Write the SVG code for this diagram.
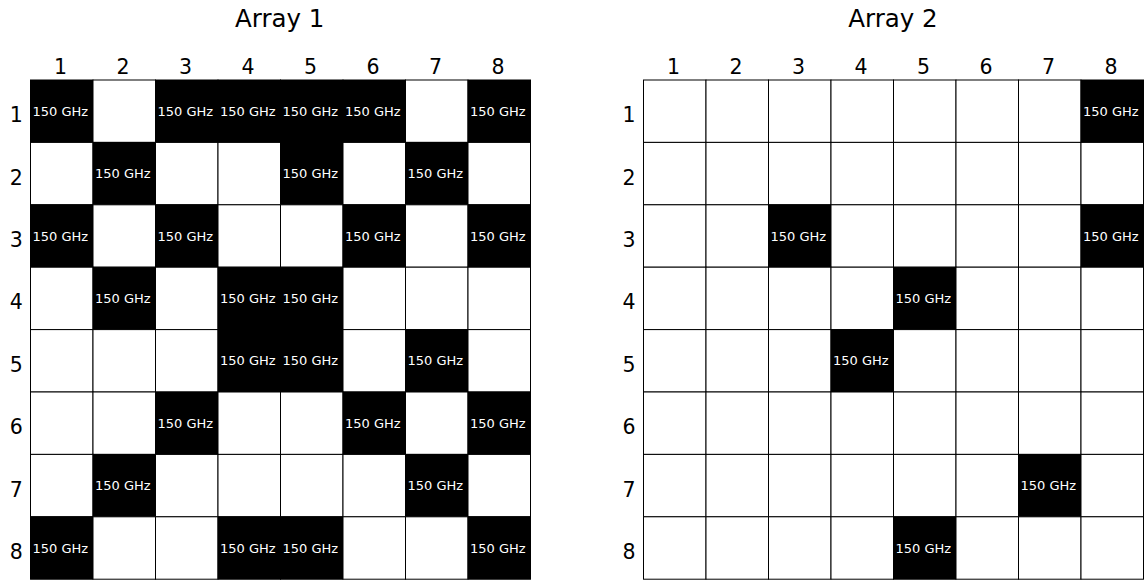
<svg xmlns="http://www.w3.org/2000/svg" width="1146" height="581" viewBox="0 0 1146 581">
<style>
text{font-family:"DejaVu Sans","Liberation Sans",sans-serif}
.title{font-size:24.5px;text-anchor:middle;fill:#000}
.ax{font-size:20.5px;text-anchor:middle;fill:#000}
.lbl{font-size:13px;fill:#fff}
.cell rect{stroke:#000;stroke-width:1}
.on{fill:#000}
.off{fill:#fff}
</style>
<g id="titles">
<text class="title" x="279.7" y="26.8">Array 1</text>
<text class="title" x="893" y="26.8">Array 2</text>
</g>
<g id="axis-labels">
<text class="ax" x="60.5" y="74">1</text><text class="ax" x="123" y="74">2</text><text class="ax" x="185.5" y="74">3</text><text class="ax" x="248" y="74">4</text><text class="ax" x="310.5" y="74">5</text><text class="ax" x="373" y="74">6</text><text class="ax" x="435.5" y="74">7</text><text class="ax" x="498" y="74">8</text>
<text class="ax" x="16.3" y="122.2">1</text><text class="ax" x="16.3" y="184.6">2</text><text class="ax" x="16.3" y="247">3</text><text class="ax" x="16.3" y="309.4">4</text><text class="ax" x="16.3" y="371.8">5</text><text class="ax" x="16.3" y="434.2">6</text><text class="ax" x="16.3" y="496.6">7</text><text class="ax" x="16.3" y="559">8</text>
<text class="ax" x="673.5" y="74">1</text><text class="ax" x="736" y="74">2</text><text class="ax" x="798.5" y="74">3</text><text class="ax" x="861" y="74">4</text><text class="ax" x="923.5" y="74">5</text><text class="ax" x="986" y="74">6</text><text class="ax" x="1048.5" y="74">7</text><text class="ax" x="1111" y="74">8</text>
<text class="ax" x="629" y="122.2">1</text><text class="ax" x="629" y="184.6">2</text><text class="ax" x="629" y="247">3</text><text class="ax" x="629" y="309.4">4</text><text class="ax" x="629" y="371.8">5</text><text class="ax" x="629" y="434.2">6</text><text class="ax" x="629" y="496.6">7</text><text class="ax" x="629" y="559">8</text>
</g>
<g id="array1">
<g id="a1-r1-c1" class="cell"><rect class="on" x="30.5" y="80" width="62.5" height="62.4"/><text class="lbl" x="32.5" y="115.7">150 GHz</text></g>
<g id="a1-r1-c2" class="cell"><rect class="off" x="93" y="80" width="62.5" height="62.4"/></g>
<g id="a1-r1-c3" class="cell"><rect class="on" x="155.5" y="80" width="62.5" height="62.4"/><text class="lbl" x="157.5" y="115.7">150 GHz</text></g>
<g id="a1-r1-c4" class="cell"><rect class="on" x="218" y="80" width="62.5" height="62.4"/><text class="lbl" x="220" y="115.7">150 GHz</text></g>
<g id="a1-r1-c5" class="cell"><rect class="on" x="280.5" y="80" width="62.5" height="62.4"/><text class="lbl" x="282.5" y="115.7">150 GHz</text></g>
<g id="a1-r1-c6" class="cell"><rect class="on" x="343" y="80" width="62.5" height="62.4"/><text class="lbl" x="345" y="115.7">150 GHz</text></g>
<g id="a1-r1-c7" class="cell"><rect class="off" x="405.5" y="80" width="62.5" height="62.4"/></g>
<g id="a1-r1-c8" class="cell"><rect class="on" x="468" y="80" width="62.5" height="62.4"/><text class="lbl" x="470" y="115.7">150 GHz</text></g>

<g id="a1-r2-c1" class="cell"><rect class="off" x="30.5" y="142.4" width="62.5" height="62.4"/></g>
<g id="a1-r2-c2" class="cell"><rect class="on" x="93" y="142.4" width="62.5" height="62.4"/><text class="lbl" x="95" y="178.1">150 GHz</text></g>
<g id="a1-r2-c3" class="cell"><rect class="off" x="155.5" y="142.4" width="62.5" height="62.4"/></g>
<g id="a1-r2-c4" class="cell"><rect class="off" x="218" y="142.4" width="62.5" height="62.4"/></g>
<g id="a1-r2-c5" class="cell"><rect class="on" x="280.5" y="142.4" width="62.5" height="62.4"/><text class="lbl" x="282.5" y="178.1">150 GHz</text></g>
<g id="a1-r2-c6" class="cell"><rect class="off" x="343" y="142.4" width="62.5" height="62.4"/></g>
<g id="a1-r2-c7" class="cell"><rect class="on" x="405.5" y="142.4" width="62.5" height="62.4"/><text class="lbl" x="407.5" y="178.1">150 GHz</text></g>
<g id="a1-r2-c8" class="cell"><rect class="off" x="468" y="142.4" width="62.5" height="62.4"/></g>

<g id="a1-r3-c1" class="cell"><rect class="on" x="30.5" y="204.8" width="62.5" height="62.4"/><text class="lbl" x="32.5" y="240.5">150 GHz</text></g>
<g id="a1-r3-c2" class="cell"><rect class="off" x="93" y="204.8" width="62.5" height="62.4"/></g>
<g id="a1-r3-c3" class="cell"><rect class="on" x="155.5" y="204.8" width="62.5" height="62.4"/><text class="lbl" x="157.5" y="240.5">150 GHz</text></g>
<g id="a1-r3-c4" class="cell"><rect class="off" x="218" y="204.8" width="62.5" height="62.4"/></g>
<g id="a1-r3-c5" class="cell"><rect class="off" x="280.5" y="204.8" width="62.5" height="62.4"/></g>
<g id="a1-r3-c6" class="cell"><rect class="on" x="343" y="204.8" width="62.5" height="62.4"/><text class="lbl" x="345" y="240.5">150 GHz</text></g>
<g id="a1-r3-c7" class="cell"><rect class="off" x="405.5" y="204.8" width="62.5" height="62.4"/></g>
<g id="a1-r3-c8" class="cell"><rect class="on" x="468" y="204.8" width="62.5" height="62.4"/><text class="lbl" x="470" y="240.5">150 GHz</text></g>

<g id="a1-r4-c1" class="cell"><rect class="off" x="30.5" y="267.2" width="62.5" height="62.4"/></g>
<g id="a1-r4-c2" class="cell"><rect class="on" x="93" y="267.2" width="62.5" height="62.4"/><text class="lbl" x="95" y="302.9">150 GHz</text></g>
<g id="a1-r4-c3" class="cell"><rect class="off" x="155.5" y="267.2" width="62.5" height="62.4"/></g>
<g id="a1-r4-c4" class="cell"><rect class="on" x="218" y="267.2" width="62.5" height="62.4"/><text class="lbl" x="220" y="302.9">150 GHz</text></g>
<g id="a1-r4-c5" class="cell"><rect class="on" x="280.5" y="267.2" width="62.5" height="62.4"/><text class="lbl" x="282.5" y="302.9">150 GHz</text></g>
<g id="a1-r4-c6" class="cell"><rect class="off" x="343" y="267.2" width="62.5" height="62.4"/></g>
<g id="a1-r4-c7" class="cell"><rect class="off" x="405.5" y="267.2" width="62.5" height="62.4"/></g>
<g id="a1-r4-c8" class="cell"><rect class="off" x="468" y="267.2" width="62.5" height="62.4"/></g>

<g id="a1-r5-c1" class="cell"><rect class="off" x="30.5" y="329.6" width="62.5" height="62.4"/></g>
<g id="a1-r5-c2" class="cell"><rect class="off" x="93" y="329.6" width="62.5" height="62.4"/></g>
<g id="a1-r5-c3" class="cell"><rect class="off" x="155.5" y="329.6" width="62.5" height="62.4"/></g>
<g id="a1-r5-c4" class="cell"><rect class="on" x="218" y="329.6" width="62.5" height="62.4"/><text class="lbl" x="220" y="365.3">150 GHz</text></g>
<g id="a1-r5-c5" class="cell"><rect class="on" x="280.5" y="329.6" width="62.5" height="62.4"/><text class="lbl" x="282.5" y="365.3">150 GHz</text></g>
<g id="a1-r5-c6" class="cell"><rect class="off" x="343" y="329.6" width="62.5" height="62.4"/></g>
<g id="a1-r5-c7" class="cell"><rect class="on" x="405.5" y="329.6" width="62.5" height="62.4"/><text class="lbl" x="407.5" y="365.3">150 GHz</text></g>
<g id="a1-r5-c8" class="cell"><rect class="off" x="468" y="329.6" width="62.5" height="62.4"/></g>

<g id="a1-r6-c1" class="cell"><rect class="off" x="30.5" y="392" width="62.5" height="62.4"/></g>
<g id="a1-r6-c2" class="cell"><rect class="off" x="93" y="392" width="62.5" height="62.4"/></g>
<g id="a1-r6-c3" class="cell"><rect class="on" x="155.5" y="392" width="62.5" height="62.4"/><text class="lbl" x="157.5" y="427.7">150 GHz</text></g>
<g id="a1-r6-c4" class="cell"><rect class="off" x="218" y="392" width="62.5" height="62.4"/></g>
<g id="a1-r6-c5" class="cell"><rect class="off" x="280.5" y="392" width="62.5" height="62.4"/></g>
<g id="a1-r6-c6" class="cell"><rect class="on" x="343" y="392" width="62.5" height="62.4"/><text class="lbl" x="345" y="427.7">150 GHz</text></g>
<g id="a1-r6-c7" class="cell"><rect class="off" x="405.5" y="392" width="62.5" height="62.4"/></g>
<g id="a1-r6-c8" class="cell"><rect class="on" x="468" y="392" width="62.5" height="62.4"/><text class="lbl" x="470" y="427.7">150 GHz</text></g>

<g id="a1-r7-c1" class="cell"><rect class="off" x="30.5" y="454.4" width="62.5" height="62.4"/></g>
<g id="a1-r7-c2" class="cell"><rect class="on" x="93" y="454.4" width="62.5" height="62.4"/><text class="lbl" x="95" y="490.1">150 GHz</text></g>
<g id="a1-r7-c3" class="cell"><rect class="off" x="155.5" y="454.4" width="62.5" height="62.4"/></g>
<g id="a1-r7-c4" class="cell"><rect class="off" x="218" y="454.4" width="62.5" height="62.4"/></g>
<g id="a1-r7-c5" class="cell"><rect class="off" x="280.5" y="454.4" width="62.5" height="62.4"/></g>
<g id="a1-r7-c6" class="cell"><rect class="off" x="343" y="454.4" width="62.5" height="62.4"/></g>
<g id="a1-r7-c7" class="cell"><rect class="on" x="405.5" y="454.4" width="62.5" height="62.4"/><text class="lbl" x="407.5" y="490.1">150 GHz</text></g>
<g id="a1-r7-c8" class="cell"><rect class="off" x="468" y="454.4" width="62.5" height="62.4"/></g>

<g id="a1-r8-c1" class="cell"><rect class="on" x="30.5" y="516.8" width="62.5" height="62.4"/><text class="lbl" x="32.5" y="552.5">150 GHz</text></g>
<g id="a1-r8-c2" class="cell"><rect class="off" x="93" y="516.8" width="62.5" height="62.4"/></g>
<g id="a1-r8-c3" class="cell"><rect class="off" x="155.5" y="516.8" width="62.5" height="62.4"/></g>
<g id="a1-r8-c4" class="cell"><rect class="on" x="218" y="516.8" width="62.5" height="62.4"/><text class="lbl" x="220" y="552.5">150 GHz</text></g>
<g id="a1-r8-c5" class="cell"><rect class="on" x="280.5" y="516.8" width="62.5" height="62.4"/><text class="lbl" x="282.5" y="552.5">150 GHz</text></g>
<g id="a1-r8-c6" class="cell"><rect class="off" x="343" y="516.8" width="62.5" height="62.4"/></g>
<g id="a1-r8-c7" class="cell"><rect class="off" x="405.5" y="516.8" width="62.5" height="62.4"/></g>
<g id="a1-r8-c8" class="cell"><rect class="on" x="468" y="516.8" width="62.5" height="62.4"/><text class="lbl" x="470" y="552.5">150 GHz</text></g>
</g>
<g id="array2">
<g id="a2-r1-c1" class="cell"><rect class="off" x="643.5" y="80" width="62.5" height="62.4"/></g>
<g id="a2-r1-c2" class="cell"><rect class="off" x="706" y="80" width="62.5" height="62.4"/></g>
<g id="a2-r1-c3" class="cell"><rect class="off" x="768.5" y="80" width="62.5" height="62.4"/></g>
<g id="a2-r1-c4" class="cell"><rect class="off" x="831" y="80" width="62.5" height="62.4"/></g>
<g id="a2-r1-c5" class="cell"><rect class="off" x="893.5" y="80" width="62.5" height="62.4"/></g>
<g id="a2-r1-c6" class="cell"><rect class="off" x="956" y="80" width="62.5" height="62.4"/></g>
<g id="a2-r1-c7" class="cell"><rect class="off" x="1018.5" y="80" width="62.5" height="62.4"/></g>
<g id="a2-r1-c8" class="cell"><rect class="on" x="1081" y="80" width="62.5" height="62.4"/><text class="lbl" x="1083" y="115.7">150 GHz</text></g>

<g id="a2-r2-c1" class="cell"><rect class="off" x="643.5" y="142.4" width="62.5" height="62.4"/></g>
<g id="a2-r2-c2" class="cell"><rect class="off" x="706" y="142.4" width="62.5" height="62.4"/></g>
<g id="a2-r2-c3" class="cell"><rect class="off" x="768.5" y="142.4" width="62.5" height="62.4"/></g>
<g id="a2-r2-c4" class="cell"><rect class="off" x="831" y="142.4" width="62.5" height="62.4"/></g>
<g id="a2-r2-c5" class="cell"><rect class="off" x="893.5" y="142.4" width="62.5" height="62.4"/></g>
<g id="a2-r2-c6" class="cell"><rect class="off" x="956" y="142.4" width="62.5" height="62.4"/></g>
<g id="a2-r2-c7" class="cell"><rect class="off" x="1018.5" y="142.4" width="62.5" height="62.4"/></g>
<g id="a2-r2-c8" class="cell"><rect class="off" x="1081" y="142.4" width="62.5" height="62.4"/></g>

<g id="a2-r3-c1" class="cell"><rect class="off" x="643.5" y="204.8" width="62.5" height="62.4"/></g>
<g id="a2-r3-c2" class="cell"><rect class="off" x="706" y="204.8" width="62.5" height="62.4"/></g>
<g id="a2-r3-c3" class="cell"><rect class="on" x="768.5" y="204.8" width="62.5" height="62.4"/><text class="lbl" x="770.5" y="240.5">150 GHz</text></g>
<g id="a2-r3-c4" class="cell"><rect class="off" x="831" y="204.8" width="62.5" height="62.4"/></g>
<g id="a2-r3-c5" class="cell"><rect class="off" x="893.5" y="204.8" width="62.5" height="62.4"/></g>
<g id="a2-r3-c6" class="cell"><rect class="off" x="956" y="204.8" width="62.5" height="62.4"/></g>
<g id="a2-r3-c7" class="cell"><rect class="off" x="1018.5" y="204.8" width="62.5" height="62.4"/></g>
<g id="a2-r3-c8" class="cell"><rect class="on" x="1081" y="204.8" width="62.5" height="62.4"/><text class="lbl" x="1083" y="240.5">150 GHz</text></g>

<g id="a2-r4-c1" class="cell"><rect class="off" x="643.5" y="267.2" width="62.5" height="62.4"/></g>
<g id="a2-r4-c2" class="cell"><rect class="off" x="706" y="267.2" width="62.5" height="62.4"/></g>
<g id="a2-r4-c3" class="cell"><rect class="off" x="768.5" y="267.2" width="62.5" height="62.4"/></g>
<g id="a2-r4-c4" class="cell"><rect class="off" x="831" y="267.2" width="62.5" height="62.4"/></g>
<g id="a2-r4-c5" class="cell"><rect class="on" x="893.5" y="267.2" width="62.5" height="62.4"/><text class="lbl" x="895.5" y="302.9">150 GHz</text></g>
<g id="a2-r4-c6" class="cell"><rect class="off" x="956" y="267.2" width="62.5" height="62.4"/></g>
<g id="a2-r4-c7" class="cell"><rect class="off" x="1018.5" y="267.2" width="62.5" height="62.4"/></g>
<g id="a2-r4-c8" class="cell"><rect class="off" x="1081" y="267.2" width="62.5" height="62.4"/></g>

<g id="a2-r5-c1" class="cell"><rect class="off" x="643.5" y="329.6" width="62.5" height="62.4"/></g>
<g id="a2-r5-c2" class="cell"><rect class="off" x="706" y="329.6" width="62.5" height="62.4"/></g>
<g id="a2-r5-c3" class="cell"><rect class="off" x="768.5" y="329.6" width="62.5" height="62.4"/></g>
<g id="a2-r5-c4" class="cell"><rect class="on" x="831" y="329.6" width="62.5" height="62.4"/><text class="lbl" x="833" y="365.3">150 GHz</text></g>
<g id="a2-r5-c5" class="cell"><rect class="off" x="893.5" y="329.6" width="62.5" height="62.4"/></g>
<g id="a2-r5-c6" class="cell"><rect class="off" x="956" y="329.6" width="62.5" height="62.4"/></g>
<g id="a2-r5-c7" class="cell"><rect class="off" x="1018.5" y="329.6" width="62.5" height="62.4"/></g>
<g id="a2-r5-c8" class="cell"><rect class="off" x="1081" y="329.6" width="62.5" height="62.4"/></g>

<g id="a2-r6-c1" class="cell"><rect class="off" x="643.5" y="392" width="62.5" height="62.4"/></g>
<g id="a2-r6-c2" class="cell"><rect class="off" x="706" y="392" width="62.5" height="62.4"/></g>
<g id="a2-r6-c3" class="cell"><rect class="off" x="768.5" y="392" width="62.5" height="62.4"/></g>
<g id="a2-r6-c4" class="cell"><rect class="off" x="831" y="392" width="62.5" height="62.4"/></g>
<g id="a2-r6-c5" class="cell"><rect class="off" x="893.5" y="392" width="62.5" height="62.4"/></g>
<g id="a2-r6-c6" class="cell"><rect class="off" x="956" y="392" width="62.5" height="62.4"/></g>
<g id="a2-r6-c7" class="cell"><rect class="off" x="1018.5" y="392" width="62.5" height="62.4"/></g>
<g id="a2-r6-c8" class="cell"><rect class="off" x="1081" y="392" width="62.5" height="62.4"/></g>

<g id="a2-r7-c1" class="cell"><rect class="off" x="643.5" y="454.4" width="62.5" height="62.4"/></g>
<g id="a2-r7-c2" class="cell"><rect class="off" x="706" y="454.4" width="62.5" height="62.4"/></g>
<g id="a2-r7-c3" class="cell"><rect class="off" x="768.5" y="454.4" width="62.5" height="62.4"/></g>
<g id="a2-r7-c4" class="cell"><rect class="off" x="831" y="454.4" width="62.5" height="62.4"/></g>
<g id="a2-r7-c5" class="cell"><rect class="off" x="893.5" y="454.4" width="62.5" height="62.4"/></g>
<g id="a2-r7-c6" class="cell"><rect class="off" x="956" y="454.4" width="62.5" height="62.4"/></g>
<g id="a2-r7-c7" class="cell"><rect class="on" x="1018.5" y="454.4" width="62.5" height="62.4"/><text class="lbl" x="1020.5" y="490.1">150 GHz</text></g>
<g id="a2-r7-c8" class="cell"><rect class="off" x="1081" y="454.4" width="62.5" height="62.4"/></g>

<g id="a2-r8-c1" class="cell"><rect class="off" x="643.5" y="516.8" width="62.5" height="62.4"/></g>
<g id="a2-r8-c2" class="cell"><rect class="off" x="706" y="516.8" width="62.5" height="62.4"/></g>
<g id="a2-r8-c3" class="cell"><rect class="off" x="768.5" y="516.8" width="62.5" height="62.4"/></g>
<g id="a2-r8-c4" class="cell"><rect class="off" x="831" y="516.8" width="62.5" height="62.4"/></g>
<g id="a2-r8-c5" class="cell"><rect class="on" x="893.5" y="516.8" width="62.5" height="62.4"/><text class="lbl" x="895.5" y="552.5">150 GHz</text></g>
<g id="a2-r8-c6" class="cell"><rect class="off" x="956" y="516.8" width="62.5" height="62.4"/></g>
<g id="a2-r8-c7" class="cell"><rect class="off" x="1018.5" y="516.8" width="62.5" height="62.4"/></g>
<g id="a2-r8-c8" class="cell"><rect class="off" x="1081" y="516.8" width="62.5" height="62.4"/></g>
</g>
<g id="connectors"/>
</svg>
